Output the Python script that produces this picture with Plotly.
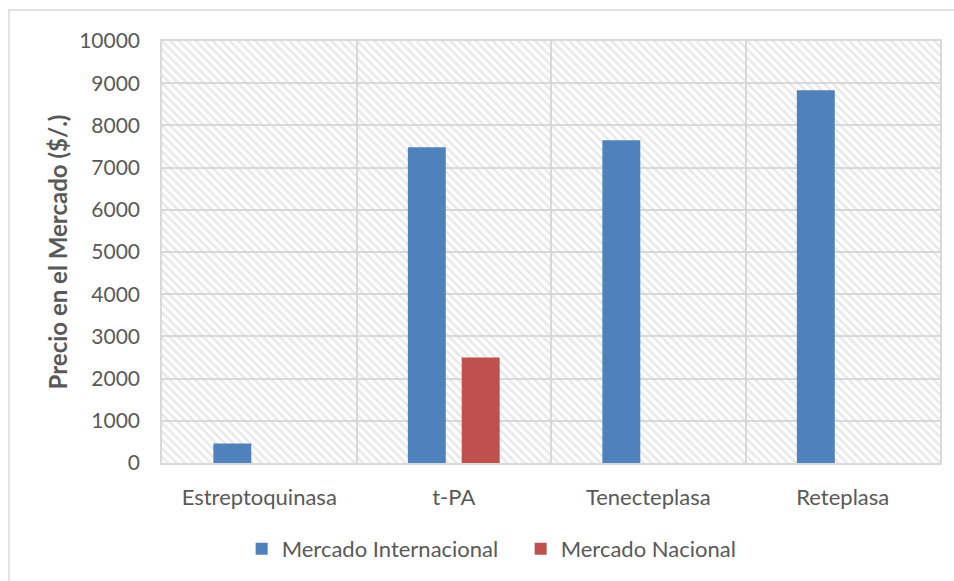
import plotly.graph_objects as go

categories = ["Estreptoquinasa", "t-PA", "Tenecteplasa", "Reteplasa"]
internacional = [460, 7480, 7650, 8830]
nacional = [None, 2500, None, None]
y_ticks = [0, 1000, 2000, 3000, 4000, 5000, 6000, 7000, 8000, 9000, 10000]
y_tick_labels = ["0", "1000", "2000", "3000", "4000", "5000", "6000", "7000", "8000", "9000", "10000"]
Y_MAX = 10000

FONT = "Lato"
TXT = "#595959"
GRID = "#d9d9d9"

fig = go.Figure()

# hatched plot-area background
fig.add_trace(go.Bar(
    x=categories, y=[Y_MAX] * len(categories), width=1, offset=-0.5,
    marker=dict(color="rgba(0,0,0,0)", line=dict(width=0),
                pattern=dict(shape="\\", fgcolor="#d4d4d4", size=6, solidity=0.45)),
    showlegend=False, hoverinfo="skip",
))

fig.add_trace(go.Bar(
    x=categories, y=internacional, name="Mercado Internacional",
    marker=dict(color="#4f81bd", line=dict(width=0)),
    width=0.195, offset=-0.236,
))
fig.add_trace(go.Bar(
    x=categories, y=nacional, name="Mercado Nacional",
    marker=dict(color="#c0504d", line=dict(width=0)),
    width=0.195, offset=0.041,
))

fig.update_layout(
    width=954, height=581,
    margin=dict(l=162, r=14, t=41, b=117),
    barmode="overlay",
    paper_bgcolor="white", plot_bgcolor="white",
    font=dict(family=FONT, size=22, color=TXT),
    showlegend=True,
    legend=dict(orientation="h", x=0.461, xanchor="center", y=-0.201, yanchor="middle",
                font=dict(family=FONT, size=22, color=TXT), traceorder="normal",
                itemwidth=30, entrywidth=234),
    shapes=[dict(type="rect", xref="paper", yref="paper",
                 x0=-153 / 778, x1=(960 - 162) / 778, y0=(464 - 600) / 423, y1=(464 - 10) / 423,
                 line=dict(color=GRID, width=1.5), fillcolor="rgba(0,0,0,0)", layer="below")],
)

fig.update_xaxes(
    type="category", range=[-0.5, 3.5], tickson="boundaries",
    showgrid=True, gridcolor=GRID, gridwidth=1.5,
    showline=True, linecolor=GRID, linewidth=1.5, mirror=True,
    ticks="", ticklabelstandoff=14,
    tickfont=dict(family=FONT, size=22, color=TXT),
)
fig.update_yaxes(
    range=[0, Y_MAX], tickvals=y_ticks, ticktext=y_tick_labels,
    showgrid=True, gridcolor=GRID, gridwidth=1.5, zeroline=False,
    showline=True, linecolor=GRID, linewidth=1.5, mirror=True,
    ticks="", ticklabelstandoff=16,
    tickfont=dict(family=FONT, size=21, color=TXT),
    title=dict(text="<b>Precio en el Mercado ($/.)</b>", standoff=5,
               font=dict(family=FONT, size=24, color="#595959")),
)

fig.write_html("out.html")
